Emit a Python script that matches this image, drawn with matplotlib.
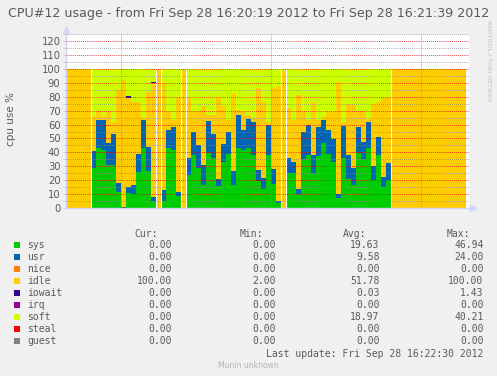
import numpy as np
import matplotlib.pyplot as plt
from matplotlib.patches import Rectangle
from matplotlib.ticker import MultipleLocator

W, H = 497, 376

# one column per second, 16:20:19 .. 16:21:39
sys_ = [0, 0, 0, 0, 0,
        29, 43, 42, 31, 31, 12, 0, 11, 10, 26, 43, 27, 5,
        0, 5, 43, 42, 8.5, 0,
        24, 38.5, 29, 17, 39.5, 36, 16, 33, 39, 17, 43, 42, 43, 38.5, 19.5, 14, 38.5, 17.5, 3.5,
        0,
        25, 25, 10, 35, 38.5, 25, 37.5, 46.9, 39, 33, 7.5, 36, 21, 17, 39.5, 35, 43, 20, 38, 15, 20.5,
        0, 0, 0, 0, 0, 0, 0, 0, 0, 0, 0, 0, 0, 0, 0]
usr = [0, 0, 0, 0, 0,
       12, 20, 21, 16, 22, 6, 1, 4, 7, 13, 20, 17, 3,
       0, 8, 13, 16.5, 3, 0,
       12, 16.5, 16.5, 14, 23, 17, 5, 13, 16, 10, 24, 14, 21, 23, 8, 8, 21, 11, 2,
       0,
       11, 8, 4, 19.5, 21.5, 13, 20.5, 16, 17, 16.5, 3, 23, 17.5, 12, 18.5, 12.5, 19, 10, 13, 7.5, 12,
       0, 0, 0, 0, 0, 0, 0, 0, 0, 0, 0, 0, 0, 0, 0]
nice = [0] * 80
idle = [100, 100, 100, 100, 100,
        25, 6.5, 3, 23, 9, 67, 91, 64, 59, 37, 2, 39, 81.5,
        100, 76.5, 13, 4.5, 68.5, 100,
        43, 14, 24, 42.5, 4, 14, 58, 27, 8, 55.5, 3.5, 13, 2.5, 3.5, 58.5, 54, 2, 57.5, 82,
        100,
        36, 30, 67.5, 15, 3, 38, 5, 2.6, 14, 20.5, 80, 2.5, 36, 46, 12, 22, 2, 45, 25, 57.5, 47.5,
        100, 100, 100, 100, 100, 100, 100, 100, 100, 100, 100, 100, 100, 100, 100]
iowait = [0, 0, 0, 0, 0,
          0, 0, 0, 0, 0, 0, 0, 1.4, 0, 0, 0, 0, 1.0,
          0, 0, 0, 0, 0, 0,
          0, 0, 0, 0, 0, 0, 0, 0, 0, 0, 0, 0, 0, 0, 0, 0, 0, 0, 0,
          0,
          0, 0, 0, 0, 0, 0, 0, 0, 0, 0, 0, 0, 0, 0, 0, 0, 0, 0, 0, 0, 0,
          0, 0, 0, 0, 0, 0, 0, 0, 0, 0, 0, 0, 0, 0, 0]
irq = [0] * 80
soft = [0, 0, 0, 0, 0,
        34, 30.5, 34, 30, 38, 15, 8, 19.6, 24, 24, 35, 17, 9.5,
        0, 10.5, 31, 37, 20, 0,
        21, 31, 30.5, 26.5, 33.5, 33, 21, 27, 37, 17.5, 29.5, 31, 33.5, 35, 14, 24, 38.5, 14, 12.5,
        0,
        28, 37, 18.5, 30.5, 37, 24, 37, 34.5, 30, 30, 9.5, 38.5, 25.5, 25, 30, 30.5, 36, 25, 24, 20, 20,
        0, 0, 0, 0, 0, 0, 0, 0, 0, 0, 0, 0, 0, 0, 0]
steal = [0] * 80
guest = [0] * 80

names = ["sys", "usr", "nice", "idle", "iowait", "irq", "soft", "steal", "guest"]
colors = ["#00cc00", "#0066b3", "#ff8000", "#ffcc00", "#330099",
          "#990099", "#ccff00", "#ff0000", "#808080"]
cur = ["0.00", "0.00", "0.00", "100.00", "0.00", "0.00", "0.00", "0.00", "0.00"]
mins = ["0.00", "0.00", "0.00", "2.00", "0.00", "0.00", "0.00", "0.00", "0.00"]
avgs = ["19.63", "9.58", "0.00", "51.78", "0.03", "0.00", "18.97", "0.00", "0.00"]
maxs = ["46.94", "24.00", "0.00", "100.00", "1.43", "0.00", "40.21", "0.00", "0.00"]

fg = "#5a5a5a"
axis_c = "#cfd6f8"

fig = plt.figure(figsize=(W / 100, H / 100), dpi=100, facecolor="#f0f0f0")
ax = fig.add_axes([66 / W, 1 - 208.3 / H, 402.5 / W, 174.5 / H])
ax.set_facecolor("white")

series = [sys_, usr, nice, idle, iowait, irq, soft, steal, guest]
x = np.arange(80)
bottom = np.zeros(80)
for vals, c in zip(series, colors):
    v = np.array(vals, dtype=float)
    ax.bar(x, v, width=1, bottom=bottom, align="edge", color=c, linewidth=0, zorder=1)
    bottom += v

# thin white edges where a column is idle only
full = np.array(idle) >= 100
edges = [i + 1 for i in range(79) if full[i] != full[i + 1]]
ax.vlines(edges, 0, 100, colors="white", linewidth=0.8, zorder=1.5)

ax.set_xlim(0, 80.5)
ax.set_ylim(0, 125)
ax.set_axisbelow(False)
ax.yaxis.set_major_locator(MultipleLocator(10))
ax.yaxis.set_minor_locator(MultipleLocator(5))
ax.set_yticks(np.arange(0, 121, 10))
ax.yaxis.grid(True, which="major", color=(0.9, 0.0, 0.0, 0.22), linestyle=(0, (1, 1.5)), linewidth=0.6)
ax.yaxis.grid(True, which="minor", color=(0.55, 0.55, 0.55, 0.28), linestyle=(0, (1, 1.5)), linewidth=0.6)
ax.set_xticks([11, 41, 71])
ax.set_xticklabels([])
ax.xaxis.grid(True, color=(0.55, 0.55, 0.55, 0.4), linestyle=(0, (1, 1.5)), linewidth=0.6)
ax.tick_params(axis="x", length=0)
ax.tick_params(axis="y", which="both", length=2, width=0.6, color="#c8c8c8",
               labelsize=7.2, labelcolor=fg, pad=2)
for s in ["top", "right"]:
    ax.spines[s].set_visible(False)
for s in ["left", "bottom"]:
    ax.spines[s].set_color(axis_c)
    ax.spines[s].set_linewidth(1)
ax.plot([0], [1.02], marker="^", ms=4, color=axis_c, transform=ax.transAxes, clip_on=False)
ax.plot([1.01], [0], marker=">", ms=4, color=axis_c, transform=ax.transAxes, clip_on=False)

fig.text(0.5, 1 - 13 / H, "CPU#12 usage - from Fri Sep 28 16:20:19 2012 to Fri Sep 28 16:21:39 2012",
         ha="center", va="center", fontsize=9.1, color=fg)
fig.text(11 / W, 1 - 119 / H, "cpu use %", rotation=90, ha="center", va="center",
         fontsize=7.5, color=fg)
fig.text(489 / W, 1 - 61 / H, "RRDTOOL / TOBI OETIKER", rotation=270, ha="center", va="center",
         fontsize=4.6, color="#c0c0c0")

mono = dict(family="DejaVu Sans Mono", fontsize=7, color=fg, va="center")
fig.text(158 / W, 1 - 234 / H, "Cur:", ha="right", **mono)
fig.text(263 / W, 1 - 234 / H, "Min:", ha="right", **mono)
fig.text(366 / W, 1 - 234 / H, "Avg:", ha="right", **mono)
fig.text(470 / W, 1 - 234 / H, "Max:", ha="right", **mono)
for i, name in enumerate(names):
    yy = 1 - (245.3 + 12 * i) / H
    fig.add_artist(Rectangle((14 / W, yy - 3 / H), 6 / W, 6 / H, transform=fig.transFigure,
                             facecolor=colors[i], edgecolor="none"))
    fig.text(27 / W, yy, name, ha="left", **mono)
    fig.text(172 / W, yy, cur[i], ha="right", **mono)
    fig.text(276 / W, yy, mins[i], ha="right", **mono)
    fig.text(379.5 / W, yy, avgs[i], ha="right", **mono)
    fig.text(483.5 / W, yy, maxs[i], ha="right", **mono)
fig.text(483.5 / W, 1 - 353.7 / H, "Last update: Fri Sep 28 16:22:30 2012", ha="right", **mono)
fig.text(248 / W, 1 - 365.5 / H, "Munin unknown", ha="center", va="center",
         fontsize=5.5, color="#b4b4b4")

fig.savefig("out.png", dpi=100, facecolor=fig.get_facecolor())
